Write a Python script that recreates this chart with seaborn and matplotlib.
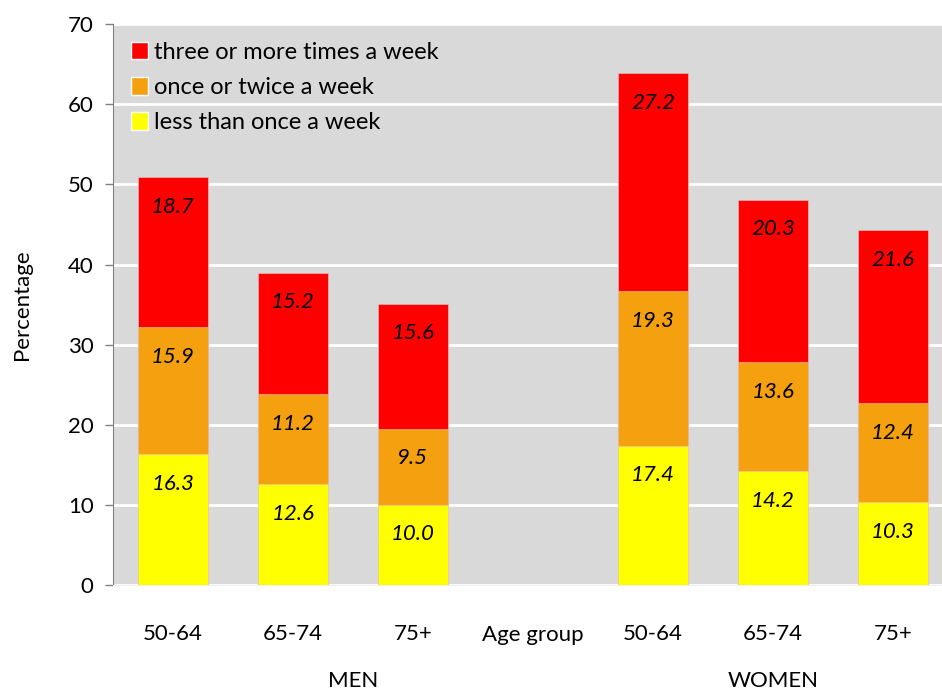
import numpy as np
import pandas as pd
import matplotlib
matplotlib.use("Agg")
import matplotlib.pyplot as plt
from matplotlib.patches import Patch
import seaborn as sns

# datos
grupos = ["50-64", "65-74", "75+", "50-64", "65-74", "75+"]
posiciones = [0, 1, 2, 4, 5, 6]
menos_una = [16.3, 12.6, 10.0, 17.4, 14.2, 10.3]
una_o_dos = [15.9, 11.2, 9.5, 19.3, 13.6, 12.4]
tres_o_mas = [18.7, 15.2, 15.6, 27.2, 20.3, 21.6]
series = ["less than once a week", "once or twice a week", "three or more times a week"]
colores = ["#ffff00", "#f5a00f", "#ff0000"]

sns.set_style("white")
plt.rcParams['font.family'] = ['Lato', 'DejaVu Sans']
plt.rcParams['text.color'] = 'black'
plt.rcParams['xtick.color'] = 'black'
plt.rcParams['ytick.color'] = 'black'
plt.rcParams['axes.labelcolor'] = 'black'

df = pd.DataFrame({"pos": posiciones, "s1": menos_una, "s2": una_o_dos, "s3": tres_o_mas})
df["c1"] = df["s1"]
df["c2"] = df["s1"] + df["s2"]
df["c3"] = df["c2"] + df["s3"]

fig = plt.figure(figsize=(9.42, 6.93), dpi=100)
ax = fig.add_axes([0.12, 0.156, 0.88, 0.809])
ax.set_facecolor("#d9d9d9")

# barras acumuladas, de atras hacia adelante
for col, color in zip(["c3", "c2", "c1"], colores[::-1]):
    sns.barplot(data=df, x="pos", y=col, native_scale=True, color=color,
                width=0.583, saturation=1, edgecolor="#e8c8c8", linewidth=0.4,
                ax=ax, zorder=3)

# etiquetas de los segmentos
for i, row in df.iterrows():
    for val, tope in [(row["s1"], row["c1"]), (row["s2"], row["c2"]), (row["s3"], row["c3"])]:
        ax.text(row["pos"], tope - 3.7, f"{val:.1f}", ha="center", va="center",
                fontsize=16, style="italic", color="black", zorder=5)

ax.set_xlim(-0.5, 6.41)
ax.set_ylim(0, 70)
ax.set_yticks(range(0, 71, 10))
ax.yaxis.grid(True, color="white", linewidth=2, zorder=0)
ax.set_axisbelow(True)
ax.set_xticks(posiciones)
ax.set_xticklabels(grupos)
ax.tick_params(axis="x", length=0, pad=28, labelsize=16)
ax.tick_params(axis="y", left=True, length=6, width=1, color="#808080", labelsize=16, pad=8)

for lado in ["top", "right"]:
    ax.spines[lado].set_visible(False)
ax.spines["left"].set_color("#808080")
ax.spines["bottom"].set_color("#f0f0f0")

ax.set_xlabel("")
ax.set_ylabel("Percentage", fontsize=16, labelpad=26)
ax.text(3, -6.3, "Age group", ha="center", va="center", fontsize=16)
ax.text(1.5, -12.0, "MEN", ha="center", va="center", fontsize=16)
ax.text(5, -12.0, "WOMEN", ha="center", va="center", fontsize=16)

# leyenda
handles = [Patch(facecolor=c) for c in colores[::-1]]
ax.legend(handles, series[::-1], loc="upper left", bbox_to_anchor=(0.0, 1.0),
          frameon=False, fontsize=17, handlelength=0.75, handleheight=0.75,
          handletextpad=0.25, labelspacing=0.6, borderaxespad=0.25,
          borderpad=0.5)

plt.savefig("out.png", dpi=100)
